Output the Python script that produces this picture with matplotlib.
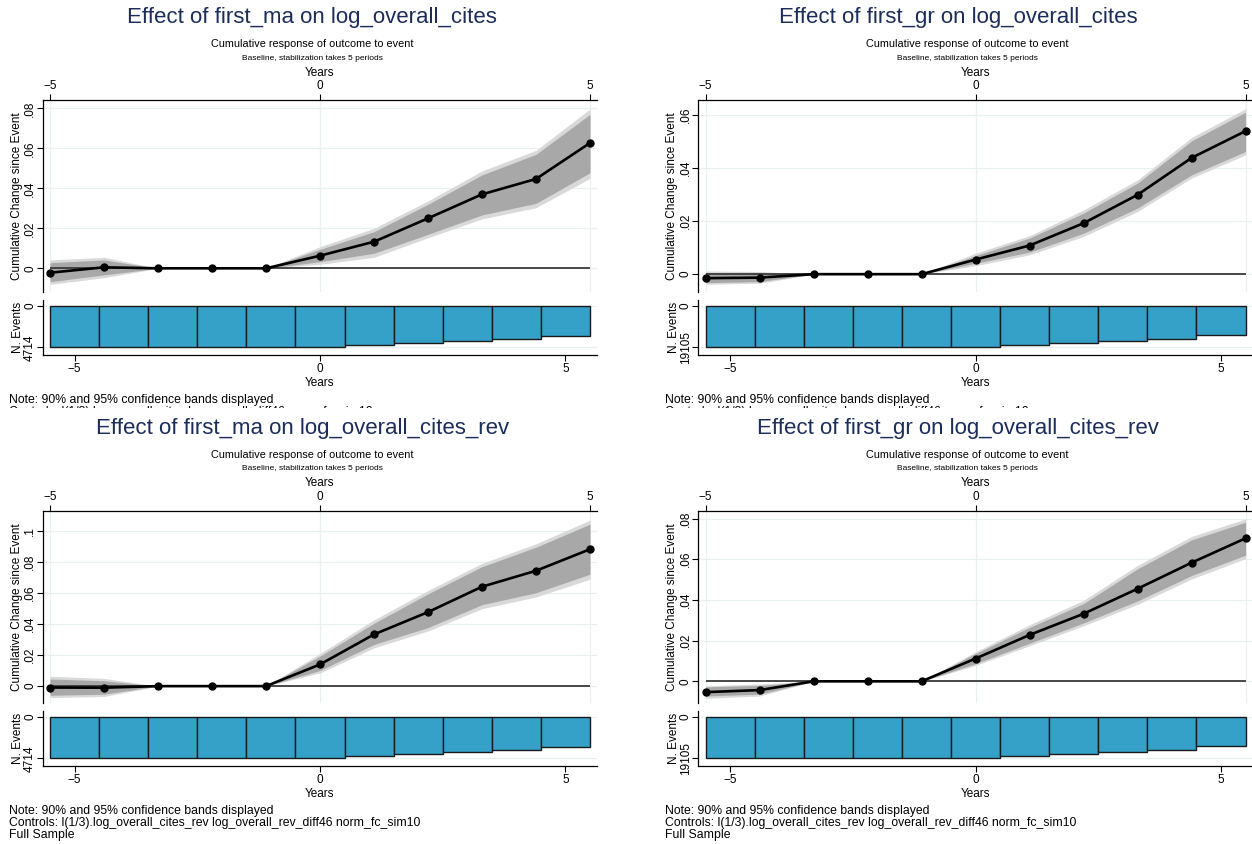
import numpy as np
import matplotlib.pyplot as plt
from matplotlib.transforms import Bbox, TransformedBbox

plt.rcParams['font.family'] = ['Liberation Sans', 'DejaVu Sans']

W, H = 1252, 844

years = np.arange(-5, 6)

# Effect of first_ma on log_overall_cites
ma_cites_est = [-0.0022, 0.0005, 0, 0, 0, 0.0063, 0.0133, 0.0250, 0.0370, 0.0447, 0.0627]
ma_cites_hi95 = [0.0042, 0.0055, 0, 0, 0, 0.0108, 0.0200, 0.0337, 0.0487, 0.0590, 0.0797]
ma_cites_hi90 = [0.0028, 0.0042, 0, 0, 0, 0.0095, 0.0183, 0.0320, 0.0467, 0.0570, 0.0770]
ma_cites_lo90 = [-0.0067, -0.0033, 0, 0, 0, 0.0033, 0.0075, 0.0170, 0.0267, 0.0325, 0.0478]
ma_cites_lo95 = [-0.0080, -0.0047, 0, 0, 0, 0.0020, 0.0055, 0.0153, 0.0247, 0.0303, 0.0450]

# Effect of first_gr on log_overall_cites
gr_cites_est = [-0.0015, -0.0013, 0, 0, 0, 0.0055, 0.0108, 0.0192, 0.0299, 0.0438, 0.0539]
gr_cites_hi95 = [0.0012, 0.0010, 0, 0, 0, 0.0079, 0.0145, 0.0242, 0.0355, 0.0515, 0.0623]
gr_cites_hi90 = [0.0006, 0.0004, 0, 0, 0, 0.0070, 0.0136, 0.0230, 0.0343, 0.0502, 0.0610]
gr_cites_lo90 = [-0.0032, -0.0028, 0, 0, 0, 0.0041, 0.0083, 0.0154, 0.0249, 0.0374, 0.0462]
gr_cites_lo95 = [-0.0038, -0.0034, 0, 0, 0, 0.0032, 0.0073, 0.0142, 0.0236, 0.0362, 0.0449]

# Effect of first_ma on log_overall_cites_rev
ma_rev_est = [-0.0009, -0.0010, 0, 0, 0, 0.0140, 0.0334, 0.0478, 0.0642, 0.0745, 0.0884]
ma_rev_hi95 = [0.0064, 0.0050, 0, 0, 0, 0.0210, 0.0428, 0.0618, 0.0793, 0.0919, 0.1072]
ma_rev_hi90 = [0.0046, 0.0035, 0, 0, 0, 0.0194, 0.0406, 0.0596, 0.0771, 0.0897, 0.1046]
ma_rev_lo90 = [-0.0059, -0.0052, 0, 0, 0, 0.0101, 0.0269, 0.0378, 0.0526, 0.0603, 0.0723]
ma_rev_lo95 = [-0.0074, -0.0067, 0, 0, 0, 0.0085, 0.0247, 0.0356, 0.0500, 0.0576, 0.0690]

# Effect of first_gr on log_overall_cites_rev
gr_rev_est = [-0.0053, -0.0043, 0, 0, 0, 0.0112, 0.0228, 0.0332, 0.0455, 0.0583, 0.0703]
gr_rev_hi95 = [-0.0022, -0.0013, 0, 0, 0, 0.0145, 0.0278, 0.0398, 0.0570, 0.0712, 0.0798]
gr_rev_hi90 = [-0.0027, -0.0020, 0, 0, 0, 0.0137, 0.0265, 0.0382, 0.0553, 0.0695, 0.0782]
gr_rev_lo90 = [-0.0072, -0.0063, 0, 0, 0, 0.0087, 0.0187, 0.0287, 0.0395, 0.0520, 0.0620]
gr_rev_lo95 = [-0.0083, -0.0072, 0, 0, 0, 0.0078, 0.0175, 0.0273, 0.0378, 0.0503, 0.0603]

# number of events by year
ma_events = [4714, 4714, 4714, 4714, 4714, 4714, 4449, 4182, 3991, 3725, 3421]
gr_events = [19105, 19105, 19105, 19105, 19105, 19105, 18032, 17102, 16177, 15099, 13405]

ticks_08 = [0, 0.02, 0.04, 0.06, 0.08]
ticks_06 = [0, 0.02, 0.04, 0.06]
ticks_10 = [0, 0.02, 0.04, 0.06, 0.08, 0.1]

note = 'Note: 90% and 95% confidence bands displayed'
ctrl_cites = 'Controls: l(1/3).log_overall_cites log_overall_diff46 norm_fc_sim10'
ctrl_rev = 'Controls: l(1/3).log_overall_cites_rev log_overall_rev_diff46 norm_fc_sim10'

TITLE_C = '#1c2d5a'
GRID_C = '#e8f0f2'
BAR_C = '#35a0c8'
FS = 8.5


def box(l, t, w, h):
    return [l / W, 1 - (t + h) / H, w / W, h / H]


def ftext(fig, x, y, s, **kw):
    return fig.text(x / W, 1 - y / H, s, **kw)


def fmt(v):
    if v == 0:
        return '0'
    return ('%g' % v).replace('0.', '.')


def panel(fig, ox, oy, title, tx, est, lo95, hi95, lo90, hi90, yticks, ylim,
          events, controls, full_sample):
    # headings
    ftext(fig, tx + ox, 18 + oy, title, ha='center', va='center',
          fontsize=16, color=TITLE_C)
    ftext(fig, 312 + ox, 44 + oy, 'Cumulative response of outcome to event',
          ha='center', va='center', fontsize=7.8)
    ftext(fig, 312 + ox, 58 + oy, 'Baseline, stabilization takes 5 periods',
          ha='center', va='center', fontsize=6)

    xl = (-5.135, 5.13)

    # main estimate plot
    ax = fig.add_axes(box(42.7 + ox, 100 + oy, 554.3, 191.7))
    ax.fill_between(years, lo95, hi95, color='#d9d9d9', lw=0)
    ax.fill_between(years, lo90, hi90, color='#a8a8a8', lw=0)
    ax.hlines(0, years[0], years[-1], color='#3a3a3a', lw=1.3, zorder=3)
    ax.plot(years, est, color='black', lw=1.9, marker='o', ms=5, zorder=4)
    ax.set_xlim(xl)
    ax.set_ylim(ylim)
    ax.set_xticks([-5, 0, 5])
    ax.set_xticklabels(['\u22125', '0', '5'])
    ax.xaxis.tick_top()
    ax.xaxis.set_label_position('top')
    ax.set_xlabel('Years', fontsize=FS, labelpad=3)
    ax.set_yticks(yticks)
    ax.set_yticklabels([fmt(v) for v in yticks], rotation=90, va='center')
    ax.set_ylabel('Cumulative Change since Event', fontsize=FS, labelpad=1)
    ax.tick_params(labelsize=FS, length=4, width=0.8, pad=2)
    ax.tick_params(axis='y', pad=0.8)
    ax.grid(True, color=GRID_C, lw=0.9)
    ax.set_axisbelow(True)
    for s in ['bottom', 'right']:
        ax.spines[s].set_visible(False)
    for s in ['top', 'left']:
        ax.spines[s].set_linewidth(0.9)

    # number of events
    bx = fig.add_axes(box(42.7 + ox, 300 + oy, 554.3, 55))
    bx.bar(years, events, width=1, color=BAR_C, edgecolor='#1a1a1a', lw=1)
    nmax = max(events)
    bx.set_xlim(xl[0] * 1.1, xl[1] * 1.1)
    bx.set_ylim(nmax * 1.186, -nmax * 0.145)
    bx.set_yticks([0, nmax])
    bx.set_yticklabels(['0', str(nmax)], rotation=90, va='center')
    bx.set_xticks([-5, 0, 5])
    bx.set_xticklabels(['\u22125', '0', '5'])
    bx.set_xlabel('Years', fontsize=FS, labelpad=1)
    bx.set_ylabel('N. Events', fontsize=FS, labelpad=0)
    bx.tick_params(labelsize=FS, length=4, width=0.8, pad=2)
    bx.tick_params(axis='y', pad=0.8)
    bx.yaxis.grid(True, color=GRID_C, lw=0.9)
    bx.set_axisbelow(True)
    for s in ['top', 'right']:
        bx.spines[s].set_visible(False)
    for s in ['bottom', 'left']:
        bx.spines[s].set_linewidth(0.9)

    # notes
    ftext(fig, 9 + ox, 400 + oy, note, ha='left', va='center', fontsize=8.8)
    t = ftext(fig, 9 + ox, 412 + oy, controls, ha='left', va='center', fontsize=8.8)
    if full_sample:
        ftext(fig, 9 + ox, 424 + oy, 'Full Sample', ha='left', va='center', fontsize=8.8)
    else:
        # the lower graph covers the rest of this panel
        t.set_clip_box(TransformedBbox(Bbox.from_extents(0, 1 - 407.5 / H, 1, 1),
                                       fig.transFigure))
        t.set_clip_on(True)


fig = plt.figure(figsize=(W / 100, H / 100), dpi=100, facecolor='white')

panel(fig, 0, 0, 'Effect of first_ma on log_overall_cites', 312,
      ma_cites_est, ma_cites_lo95, ma_cites_hi95, ma_cites_lo90, ma_cites_hi90,
      ticks_08, (-0.0117, 0.0842), ma_events, ctrl_cites, False)
panel(fig, 655.6, 0, 'Effect of first_gr on log_overall_cites', 958 - 655.6,
      gr_cites_est, gr_cites_lo95, gr_cites_hi95, gr_cites_lo90, gr_cites_hi90,
      ticks_06, (-0.0066, 0.0656), gr_events, ctrl_cites, False)
panel(fig, 0, 411, 'Effect of first_ma on log_overall_cites_rev', 303,
      ma_rev_est, ma_rev_lo95, ma_rev_hi95, ma_rev_lo90, ma_rev_hi90,
      ticks_10, (-0.0107, 0.1131), ma_events, ctrl_rev, True)
panel(fig, 655.6, 411, 'Effect of first_gr on log_overall_cites_rev', 958 - 655.6,
      gr_rev_est, gr_rev_lo95, gr_rev_hi95, gr_rev_lo90, gr_rev_hi90,
      ticks_08, (-0.0105, 0.0837), gr_events, ctrl_rev, True)

fig.savefig('out.png', dpi=100, facecolor='white')
